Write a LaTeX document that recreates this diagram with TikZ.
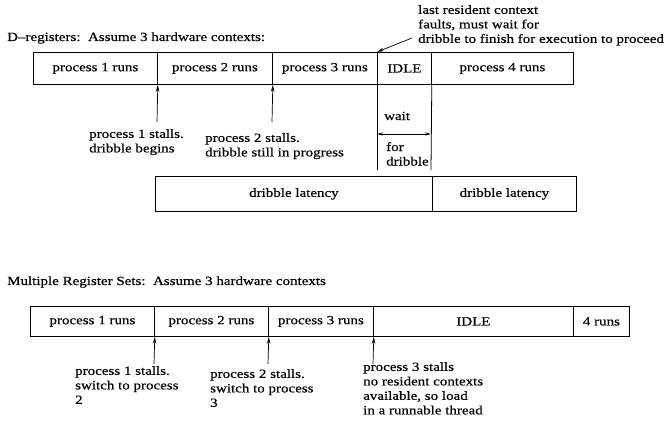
\documentclass[tikz,border=0pt]{standalone}
\usepackage{fontspec}
\setmainfont{Liberation Serif}[FakeStretch=1.2,FakeBold=0.4]
\usetikzlibrary{arrows.meta}
\begin{document}
\begin{tikzpicture}[x=1pt,y=-1pt,
  txt/.style={font=\fontsize{12.5}{14.5}\selectfont, inner sep=0pt},
  cell/.style={txt, draw, line width=0.8pt, anchor=north west},
  note/.style={txt, align=left, anchor=north west},
  up/.style={line width=0.7pt, -{Stealth[length=7pt,width=3.5pt]}},
  rule/.style={line width=0.8pt}]
\useasboundingbox (0,0) rectangle (672,426);

% ---- D-registers timeline ----
\node[txt, anchor=west] (t1) at (7,38) {D--registers:\ \ Assume 3 hardware contexts:};
\node[note] (fault) at (418,5) {last resident context\\faults, must wait for\\dribble to finish for execution to proceed};
\coordinate (faultTail) at (412,38);

\node[cell, minimum width=124pt, minimum height=32pt] (a1) at (33,52)  {process 1 runs};
\node[cell, minimum width=115pt, minimum height=32pt] (a2) at (157,52) {process 2 runs};
\node[cell, minimum width=105pt, minimum height=32pt] (a3) at (272,52) {process 3 runs};
\node[cell, minimum width=54pt,  minimum height=32pt] (a4) at (377,52) {IDLE};
\node[cell, minimum width=142pt, minimum height=32pt] (a5) at (431,52) {process 4 runs};

\draw[up] (faultTail) -- (a4.north west);

\coordinate (s1) at (157,122);
\coordinate (s2) at (272,122);
\draw[up] (s1) -- (a1.south east);
\draw[up] (s2) -- (a2.south east);
\node[note] (l1) at (89,129)  {process 1 stalls.\\dribble begins};
\node[note] (l2) at (205,133) {process 2 stalls.\\dribble still in progress};

% wait for dribble
\coordinate (w1) at (377,170);
\coordinate (w2) at (431,170);
\draw[rule] (a4.south west) -- (w1);
\draw[rule] (a4.south east) -- (w2);
\node[txt, anchor=west] (wait) at (384,116) {wait};
\coordinate (wl) at (377,134);
\coordinate (wr) at (431,134);
\draw[line width=0.7pt, {Stealth[length=6pt,width=3pt]}-{Stealth[length=6pt,width=3pt]}] (wl) -- (wr);
\node[note] (forDr) at (386,142) {for\\dribble};

\node[cell, minimum width=277pt, minimum height=35pt] (d1) at (155,176) {dribble latency};
\node[cell, minimum width=144pt, minimum height=35pt] (d2) at (432,176) {dribble latency};

% ---- Multiple register sets timeline ----
\node[txt, anchor=west] (t2) at (7,282) {Multiple Register Sets:\ \ Assume 3 hardware contexts};

\node[cell, minimum width=124pt, minimum height=30pt] (b1) at (30,306)  {process 1 runs};
\node[cell, minimum width=114pt, minimum height=30pt] (b2) at (154,306) {process 2 runs};
\node[cell, minimum width=105pt, minimum height=30pt] (b3) at (268,306) {process 3 runs};
\node[cell, minimum width=200pt, minimum height=30pt] (b4) at (373,306) {IDLE};
\node[cell, minimum width=56pt,  minimum height=30pt] (b5) at (573,306) {4 runs};

\coordinate (u1) at (154,364);
\coordinate (u2) at (268,364);
\coordinate (u3) at (373,364);
\draw[up] (u1) -- (b1.south east);
\draw[up] (u2) -- (b2.south east);
\draw[up] (u3) -- (b3.south east);
\node[note] (m1) at (75,366)  {process 1 stalls.\\switch to process\\2};
\node[note] (m2) at (210,369) {process 2 stalls.\\switch to process\\3};
\node[note] (m3) at (363,362) {process 3 stalls\\no resident contexts\\available, so load\\in a runnable thread};
\end{tikzpicture}
\end{document}
